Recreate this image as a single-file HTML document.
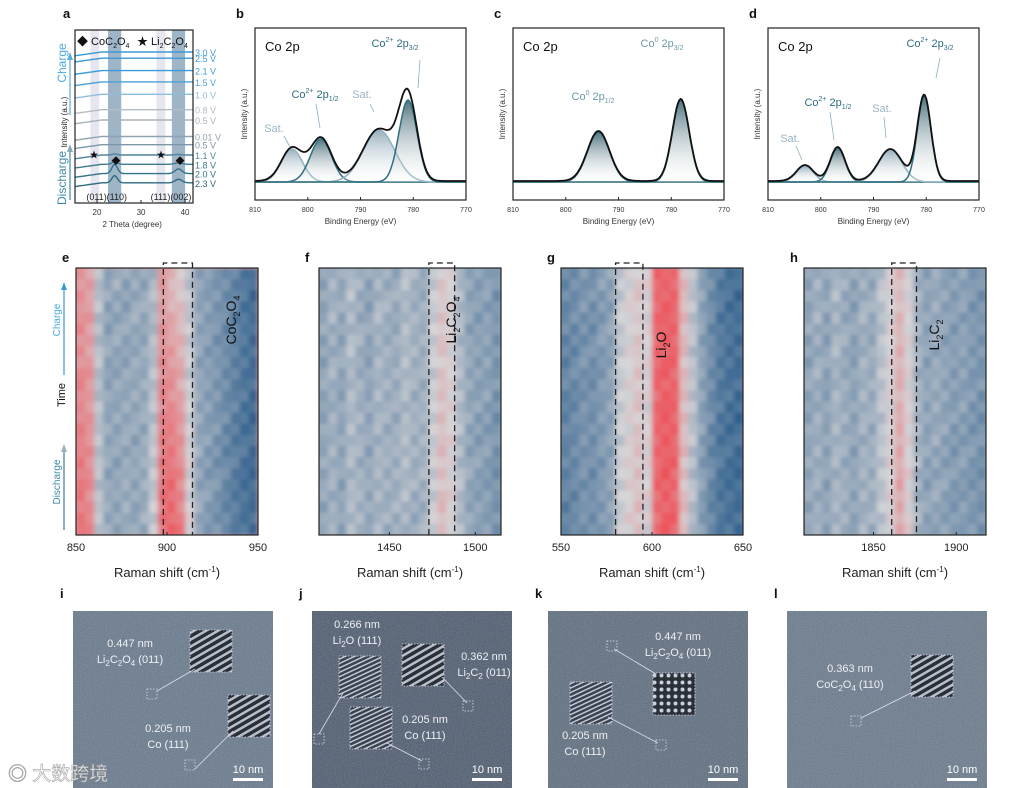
<!DOCTYPE html>
<html><head><meta charset="utf-8"><style>
html,body{margin:0;padding:0;background:#fff}
svg{display:block;font-family:"Liberation Sans","Noto Sans CJK SC",sans-serif}
</style></head><body>
<svg id="fig" width="1030" height="788" viewBox="0 0 1030 788" xmlns="http://www.w3.org/2000/svg">
<defs>
<linearGradient id="gTeal" x1="0" y1="0" x2="0" y2="1"><stop offset="0" stop-color="#24505e"/><stop offset="1" stop-color="#ffffff" stop-opacity="0.2"/></linearGradient>
<linearGradient id="gSat" x1="0" y1="0" x2="0" y2="1"><stop offset="0" stop-color="#7f9cac"/><stop offset="1" stop-color="#ffffff" stop-opacity="0.2"/></linearGradient>
<filter id="blur" x="0" y="0" width="1" height="1"><feGaussianBlur stdDeviation="2.5 1.5"/></filter>
<filter id="noise"><feTurbulence type="fractalNoise" baseFrequency="0.9" numOctaves="2" seed="3"/><feColorMatrix type="saturate" values="0"/><feComponentTransfer><feFuncA type="linear" slope="0.35"/></feComponentTransfer><feComposite in2="SourceGraphic" operator="in"/></filter>
<pattern id="stripe1" width="6" height="6" patternUnits="userSpaceOnUse" patternTransform="rotate(60)"><rect width="6" height="6" fill="#2a2f38"/><rect width="2.5" height="6" fill="#b8c0cc"/></pattern>
<pattern id="stripe2" width="4" height="4" patternUnits="userSpaceOnUse" patternTransform="rotate(65)"><rect width="4" height="4" fill="#3a4250"/><rect width="1.5" height="4" fill="#c0c8d4"/></pattern>
<pattern id="dots" width="7" height="7" patternUnits="userSpaceOnUse"><rect width="7" height="7" fill="#2a2f38"/><circle cx="3.5" cy="3.5" r="2" fill="#c8d0da"/></pattern>
</defs>
<g id="root"></g>
</svg>
<script>
// ---------- DATA ----------
var aVolts=["3.0 V","2.5 V","2.1 V","1.5 V","1.0 V","0.8 V","0.5 V","0.01 V","0.5 V","1.1 V","1.8 V","2.0 V","2.3 V"];
var aOffsets=[13.2,12.6,11.4,10.3,9.1,7.6,6.6,5.0,4.2,3.2,2.3,1.4,0.5];
var aPeak110=[0,0,0,0,0,0,0,0,0,0.1,0.25,0.9,0.7];
var aPeak002=[0,0,0,0,0,0,0,0,0,0.05,0.15,0.45,0.35];
var aColors=["#3a9ad9","#3a9ad9","#3a9ad9","#4aa0d8","#8ebcdc","#b4bcc4","#a8b2ba","#8fa4b2","#7d98a8","#4f8499","#3d7a90","#337288","#2e6a80"];
var bCenters=[803,797.5,786.5,781], bHeights=[0.33,0.43,0.52,0.82], bWidths=[2.0,2.0,3.0,1.7], bKinds=["sat","main","sat","main"];
var cCenters=[793.8,778.2], cHeights=[0.5,0.82], cWidths=[2.1,1.6], cKinds=["main","main"];
var dCenters=[803,796.8,786.8,780.4], dHeights=[0.16,0.34,0.32,0.86], dWidths=[1.6,1.4,2.2,1.3], dKinds=["sat","main","sat","main"];
var eTop=[0.72,0.68,0.4,0.3,0.33,0.3,0.34,0.32,0.38,0.7,0.6,0.55,0.42,0.3,0.28,0.25,0.22,0.18,0.14,0.1];
var eBot=[0.85,0.78,0.42,0.32,0.3,0.34,0.3,0.33,0.45,0.88,0.92,0.82,0.5,0.32,0.28,0.25,0.2,0.16,0.12,0.1];
var fTop=[0.3,0.36,0.32,0.4,0.34,0.3,0.38,0.35,0.33,0.4,0.36,0.34,0.45,0.55,0.5,0.38,0.3,0.28,0.3,0.25];
var fBot=[0.32,0.35,0.3,0.38,0.36,0.32,0.36,0.34,0.35,0.38,0.34,0.36,0.46,0.6,0.52,0.4,0.32,0.3,0.28,0.24];
var gTop=[0.2,0.22,0.25,0.24,0.28,0.3,0.45,0.5,0.55,0.5,0.9,0.92,0.9,0.6,0.42,0.3,0.22,0.15,0.12,0.1];
var gBot=[0.18,0.2,0.24,0.22,0.26,0.3,0.46,0.52,0.58,0.5,0.88,0.93,0.9,0.58,0.4,0.28,0.2,0.14,0.12,0.1];
var hTop=[0.3,0.35,0.3,0.38,0.33,0.3,0.36,0.33,0.42,0.5,0.6,0.5,0.36,0.3,0.33,0.3,0.28,0.3,0.26,0.25];
var hBot=[0.32,0.34,0.3,0.36,0.34,0.3,0.35,0.34,0.42,0.52,0.68,0.52,0.36,0.3,0.32,0.3,0.27,0.28,0.26,0.24];
var rowMod=[0.04,-0.03,0.05,-0.02,0.0,0.06,-0.04,0.03,-0.05,0.02,0.05,-0.03,0.01,-0.04,0.04,0.0,-0.02,0.05,-0.03,0.02,0.04,-0.05,0.03,0.0];
var eTicks=[850,900,950], fTicks=[1450,1500], gTicks=[550,600,650], hTicks=[1850,1900];

var NS="http://www.w3.org/2000/svg", root=document.getElementById('root');
function mk(tag,attrs,parent,txt){var e=document.createElementNS(NS,tag);for(var k in attrs)e.setAttribute(k,attrs[k]);if(txt!==undefined)e.textContent=txt;(parent||root).appendChild(e);return e;}
function label(x,y,t){var e=mk('text',{x:x,y:y,'font-size':13,'font-weight':'bold',fill:'#111'},root,t);

}
function txt(x,y,s,t,fill,anchor,g,name){var e=mk('text',{x:x,y:y,'font-size':s,fill:fill||'#222','text-anchor':anchor||'start'},g,'');e.innerHTML=t;

return e;}

// ---------- Panel a ----------
(function(){
 label(63,18,'a');
 var g=mk('g',{});  
 var L=75,R=193,T=30,B=203, x0=15, x1=41.8;
 function X(v){return L+(v-x0)/(x1-x0)*(R-L);}
 function Y(v){return 188-v*10.3;}
 [[18.5,20.5,'#e6e6ef'],[33.5,35.5,'#e6e6ef'],[22.5,25.5,'#9db5c7'],[37,40,'#9db5c7']].forEach(function(b){
  var r=mk('rect',{x:X(b[0]),y:T,width:X(b[1])-X(b[0]),height:B-T,fill:b[2]},g);
   });
 for(var i=0;i<aVolts.length;i++){
  var d='';
  for(var v=x0;v<=x1;v+=0.3){
   var y=aOffsets[i]+ (v<21? (v-21)*0.06:0) + aPeak110[i]*Math.exp(-Math.pow(v-24,2)/0.8)+aPeak002[i]*Math.exp(-Math.pow(v-38.5,2)/1.2);
   d+=(d?'L':'M')+X(v).toFixed(1)+','+Y(y).toFixed(1);
  }
  var p=mk('path',{d:d,fill:'none',stroke:aColors[i],'stroke-width':1.4},g);
   
  txt(R+2,Y(aOffsets[i])+4,9,aVolts[i],aColors[i],'start',g,'voltage-label');
 }
 mk('rect',{x:L,y:T,width:R-L,height:B-T,fill:'none',stroke:'#222','stroke-width':1.2},g);
 [20,30,40].forEach(function(t){mk('line',{x1:X(t),x2:X(t),y1:B,y2:B-3,stroke:'#222'},g);txt(X(t),B+12,8,t,'#333','middle',g,'x-tick-label');});
 txt(X(28),B+24,8,'2 Theta (degree)','#333','middle',g,'x-axis-title');
 txt(77,45,11,'◆ CoC<tspan dy="3" font-size="7">2</tspan><tspan dy="-3">O</tspan><tspan dy="3" font-size="7">4</tspan>','#111','start',g,'legend-coc2o4');
 txt(137,45,11,'★ Li<tspan dy="3" font-size="7">2</tspan><tspan dy="-3">C</tspan><tspan dy="3" font-size="7">2</tspan><tspan dy="-3">O</tspan><tspan dy="3" font-size="7">4</tspan>','#111','start',g,'legend-li2c2o4');
 txt(94,158,9,'★','#111','middle',g,'marker'); txt(161,158,9,'★','#111','middle',g,'marker');
 txt(116,164,9,'◆','#111','middle',g,'marker'); txt(180,164,9,'◆','#111','middle',g,'marker');
 txt(X(22.2),200,9,'(011)(110)','#222','middle',g,'hkl-label');txt(X(36.8),200,9,'(111)(002)','#222','middle',g,'hkl-label');
 mk('line',{x1:70,y1:115,x2:70,y2:58,stroke:'#5aaee0','stroke-width':1.2},g);mk('path',{d:'M67,60 L70,52 L73,60Z',fill:'#5aaee0'},g);
 mk('line',{x1:70,y1:200,x2:70,y2:150,stroke:'#3d8aa8','stroke-width':1.2},g);mk('path',{d:'M67,152 L70,144 L73,152Z',fill:'#8aa8b4'},g);
 var t1=txt(0,0,12,'Charge','#4aa8e0','middle',g,'charge-label');t1.setAttribute('transform','translate(66,63) rotate(-90)');
 var t2=txt(0,0,8,'Intensity (a.u.)','#222','middle',g,'y-axis-title');t2.setAttribute('transform','translate(67,122) rotate(-90)');
 var t3=txt(0,0,12,'Discharge','#3d8aa8','middle',g,'discharge-label');t3.setAttribute('transform','translate(66,178) rotate(-90)');
})();

// ---------- XPS ----------
function xps(L,lab,C,H,W,K,annos,arrows,name){
 var R=L+211,T=28,B=200,base=182;
 label(L-19,18,lab);
 var g=mk('g',{});  
 function X(v){return L+(810-v)/40*(R-L);}
 function Y(v){return base-v*100;}
 mk('line',{x1:L,x2:R,y1:base,y2:base,stroke:'#d8e4c0','stroke-width':1.5},g);
 for(var i=0;i<C.length;i++){
  var d='',col=K[i]=='sat'?'#8fb0c0':'#2e6e80';
  for(var v=810;v>=770;v-=0.25){var y=H[i]*Math.exp(-Math.pow(v-C[i],2)/(2*W[i]*W[i]));d+=(d?'L':'M')+X(v).toFixed(1)+','+Y(y).toFixed(1);}
  var f=mk('path',{d:d+'Z',fill:K[i]=='sat'?'url(#gSat)':'url(#gTeal)',opacity:0.8},g);
   
  var p=mk('path',{d:d,fill:'none',stroke:col,'stroke-width':1.5},g);
   
 }
 var d2='';
 for(var v=810;v>=770;v-=0.25){var s=0;for(var i=0;i<C.length;i++)s+=H[i]*Math.exp(-Math.pow(v-C[i],2)/(2*W[i]*W[i]));d2+=(d2?'L':'M')+X(v).toFixed(1)+','+Y(s+0.01).toFixed(1);}
 var env=mk('path',{d:d2,fill:'none',stroke:'#111','stroke-width':1.8},g);
  
 arrows.forEach(function(a){mk('line',{x1:a[0],y1:a[1],x2:a[2],y2:a[3],stroke:'#8ab0c0','stroke-width':0.8},g);});
 mk('rect',{x:L,y:T,width:R-L,height:B-T,fill:'none',stroke:'#222','stroke-width':1.2},g);
 [810,800,790,780,770].forEach(function(t){mk('line',{x1:X(t),x2:X(t),y1:B,y2:B-3,stroke:'#222'},g);txt(X(t),B+12,7,t,'#333','middle',g,'x-tick-label');});
 txt((L+R)/2,B+24,8,'Binding Energy (eV)','#333','middle',g,'x-axis-title');
 var yt=txt(0,0,8,'Intensity (a.u.)','#333','middle',g,'y-axis-title');yt.setAttribute('transform','translate('+(L-8)+',114) rotate(-90)');
 txt(L+10,51,13,'Co 2p','#111','start',g,'element-label');
 annos.forEach(function(a){txt(a[0],a[1],11,a[2],a[3],'middle',g,'peak-label');});
}
xps(255,'b',bCenters,bHeights,bWidths,bKinds,[[395,47,'Co<tspan dy="-5" font-size="7">2+</tspan><tspan dy="5"> 2p</tspan><tspan dy="3" font-size="7">3/2</tspan>','#2e6e80'],[315,98,'Co<tspan dy="-5" font-size="7">2+</tspan><tspan dy="5"> 2p</tspan><tspan dy="3" font-size="7">1/2</tspan>','#2e6e80'],[362,98,'Sat.','#9ab4c2'],[274,132,'Sat.','#9ab4c2']],[[420,60,418,88],[316,104,320,128],[370,104,374,112],[284,136,290,147]],'xps-panel-b');
xps(513,'c',cCenters,cHeights,cWidths,cKinds,[[662,47,'Co<tspan dy="-5" font-size="7">0</tspan><tspan dy="5"> 2p</tspan><tspan dy="3" font-size="7">3/2</tspan>','#6b9aaa'],[593,100,'Co<tspan dy="-5" font-size="7">0</tspan><tspan dy="5"> 2p</tspan><tspan dy="3" font-size="7">1/2</tspan>','#6b9aaa']],[],'xps-panel-c');
xps(768,'d',dCenters,dHeights,dWidths,dKinds,[[930,47,'Co<tspan dy="-5" font-size="7">2+</tspan><tspan dy="5"> 2p</tspan><tspan dy="3" font-size="7">3/2</tspan>','#2e6e80'],[828,106,'Co<tspan dy="-5" font-size="7">2+</tspan><tspan dy="5"> 2p</tspan><tspan dy="3" font-size="7">1/2</tspan>','#2e6e80'],[882,112,'Sat.','#9ab4c2'],[790,142,'Sat.','#9ab4c2']],[[940,58,936,78],[830,112,834,140],[884,117,886,138],[796,146,802,160]],'xps-panel-d');

// ---------- Heatmaps ----------
function cmap(v){v=Math.max(0,Math.min(1,v));var b=[28,82,132],m=[214,214,216],r=[238,76,84],c=[];
 for(var i=0;i<3;i++)c[i]=v<0.5? b[i]+(m[i]-b[i])*(v/0.5) : m[i]+(r[i]-m[i])*((v-0.5)/0.5);
 return 'rgb('+c.map(Math.round).join(',')+')';}
function heat(L,lab,top,bot,x0,x1,ticks,box,spec,name,time){
 var R=L+182,T=268,B=535; label(L-14,262,lab);
 var g=mk('g',{});  
 var clip=mk('clipPath',{id:'clip'+lab},g); mk('rect',{x:L,y:T,width:R-L,height:B-T},clip);
 var hg=mk('g',{'clip-path':'url(#clip'+lab+')'},g); var hb=mk('g',{filter:'url(#blur)'},hg);
 mk('rect',{x:L-10,y:T-10,width:R-L+20,height:B-T+20,fill:cmap(top[0])},hb);
 var n=top.length,rows=rowMod.length,cw=(R-L)/n,rh=(B-T)/rows;
 for(var r=0;r<rows;r++)for(var i=0;i<n;i++){var t=r/(rows-1);var v=top[i]*(1-t)+bot[i]*t+rowMod[(r+i)%rows];
  var c=mk('rect',{x:(L+i*cw).toFixed(1),y:(T+r*rh).toFixed(1),width:(cw+0.6).toFixed(1),height:(rh+0.6).toFixed(1),fill:cmap(v)},hb);
   }
 function X(v){return L+(v-x0)/(x1-x0)*(R-L);}
 mk('rect',{x:L,y:T,width:R-L,height:B-T,fill:'none',stroke:'#222','stroke-width':1.2},g);
 var bx=mk('path',{d:'M'+X(box[0])+','+B+' L'+X(box[0])+','+(T-5)+' L'+X(box[1])+','+(T-5)+' L'+X(box[1])+','+B,fill:'none',stroke:'#222','stroke-width':1.3,'stroke-dasharray':'6,4'},g);
  
 ticks.forEach(function(t){mk('line',{x1:X(t),x2:X(t),y1:B,y2:B-3,stroke:'#222'},g);txt(X(t),B+16,11,t,'#222','middle',g,'x-tick-label');});
 txt((L+R)/2,B+42,13,'Raman shift (cm<tspan dy="-5" font-size="8">-1</tspan><tspan dy="5">)</tspan>','#222','middle',g,'x-axis-title');
 var st=txt(0,0,14,spec,'#111','middle',g,'species-label');st.setAttribute('transform','translate('+(L+box[2])+','+box[3]+') rotate(-90)');
 if(time){
  mk('line',{x1:L-12,y1:375,x2:L-12,y2:288,stroke:'#3a9ad9','stroke-width':1.2},g);mk('path',{d:'M'+(L-15)+',290 L'+(L-12)+','+282+' L'+(L-9)+',290Z',fill:'#3a9ad9'},g);
  mk('line',{x1:L-12,y1:530,x2:L-12,y2:450,stroke:'#3d7a98','stroke-width':1.2},g);mk('path',{d:'M'+(L-15)+',452 L'+(L-12)+',444 L'+(L-9)+',452Z',fill:'#9ab0b8'},g);
  var a=txt(0,0,10,'Charge','#4aa8e0','middle',g,'charge-label');a.setAttribute('transform','translate('+(L-16)+',320) rotate(-90)');
  var b=txt(0,0,11,'Time','#111','middle',g,'y-axis-title');b.setAttribute('transform','translate('+(L-11)+',395) rotate(-90)');
  var c=txt(0,0,10,'Discharge','#3d8aa8','middle',g,'discharge-label');c.setAttribute('transform','translate('+(L-16)+',482) rotate(-90)');
 }
}
heat(76,'e',eTop,eBot,850,950,eTicks,[898,914,160,320],'CoC<tspan dy="4" font-size="9">2</tspan><tspan dy="-4">O</tspan><tspan dy="4" font-size="9">4</tspan>','raman-heatmap-e',true);
heat(319,'f',fTop,fBot,1409,1515,fTicks,[1473,1488,137,320],'Li<tspan dy="4" font-size="9">2</tspan><tspan dy="-4">C</tspan><tspan dy="4" font-size="9">2</tspan><tspan dy="-4">O</tspan><tspan dy="4" font-size="9">4</tspan>','raman-heatmap-f',false);
heat(561,'g',gTop,gBot,550,650,gTicks,[580,595,105,345],'Li<tspan dy="4" font-size="9">2</tspan><tspan dy="-4">O</tspan>','raman-heatmap-g',false);
heat(804,'h',hTop,hBot,1808,1918,hTicks,[1861,1876,135,335],'Li<tspan dy="4" font-size="9">2</tspan><tspan dy="-4">C</tspan><tspan dy="4" font-size="9">2</tspan>','raman-heatmap-h',false);

// ---------- TEM ----------
function tem(L,lab,bg,items,name){
 var T=611,W=200,H=177; label(L-13,598,lab);
 var g=mk('g',{});  
 mk('rect',{x:L,y:T,width:W,height:H,fill:bg},g);
 mk('rect',{x:L,y:T,width:W,height:H,fill:bg,filter:'url(#noise)'},g);
 items.forEach(function(it){
  if(it.t=='inset'){mk('rect',{x:L+it.x,y:T+it.y,width:it.s,height:it.s,fill:it.p,stroke:'#dde',"stroke-dasharray":'1.5,1.5','stroke-width':0.8},g);}
  else if(it.t=='small'){mk('rect',{x:L+it.x,y:T+it.y,width:10,height:10,fill:'none',stroke:'#dde','stroke-dasharray':'1.5,1.5','stroke-width':0.8},g);}
  else if(it.t=='line'){mk('line',{x1:L+it.x1,y1:T+it.y1,x2:L+it.x2,y2:T+it.y2,stroke:'#dde','stroke-width':0.8},g);}
  else {txt(L+it.x,T+it.y,11,it.s,'#eef0f4','middle',g,'lattice-label');}
 });
 mk('rect',{x:L+160,y:T+167,width:30,height:3,fill:'#fff'},g);
 txt(L+175,T+162,11,'10 nm','#fff','middle',g,'scale-bar-label');
}
var sub=function(s){return '<tspan dy="3" font-size="8">'+s+'</tspan><tspan dy="-3">';};
tem(73,'i','#66788c',[{t:'inset',x:117,y:19,s:42,p:'url(#stripe1)'},{t:'inset',x:155,y:84,s:42,p:'url(#stripe1)'},{t:'small',x:74,y:78},{t:'small',x:112,y:149},{t:'line',x1:84,y1:80,x2:122,y2:58},{t:'line',x1:122,y1:158,x2:160,y2:120},{t:'txt',x:57,y:36,s:'0.447 nm'},{t:'txt',x:57,y:52,s:'Li'+sub('2')+'C</tspan>'+sub('2')+'O</tspan>'+sub('4')+' (011)</tspan>'},{t:'txt',x:95,y:121,s:'0.205 nm'},{t:'txt',x:95,y:137,s:'Co (111)'}],'tem-panel-i');
tem(312,'j','#4c5a6e',[{t:'inset',x:27,y:45,s:42,p:'url(#stripe2)'},{t:'inset',x:90,y:33,s:42,p:'url(#stripe1)'},{t:'inset',x:38,y:96,s:42,p:'url(#stripe2)'},{t:'small',x:151,y:90},{t:'small',x:2,y:123},{t:'small',x:107,y:148},{t:'line',x1:7,y1:123,x2:31,y2:82},{t:'line',x1:130,y1:66,x2:155,y2:92},{t:'line',x1:75,y1:132,x2:110,y2:150},{t:'txt',x:45,y:17,s:'0.266 nm'},{t:'txt',x:45,y:33,s:'Li'+sub('2')+'O (111)</tspan>'},{t:'txt',x:172,y:49,s:'0.362 nm'},{t:'txt',x:172,y:65,s:'Li'+sub('2')+'C</tspan>'+sub('2')+' (011)</tspan>'},{t:'txt',x:113,y:112,s:'0.205 nm'},{t:'txt',x:113,y:128,s:'Co (111)'}],'tem-panel-j');
tem(548,'k','#5d6c7e',[{t:'inset',x:105,y:62,s:42,p:'url(#dots)'},{t:'inset',x:22,y:71,s:42,p:'url(#stripe2)'},{t:'small',x:59,y:30},{t:'small',x:108,y:129},{t:'line',x1:66,y1:38,x2:108,y2:63},{t:'line',x1:60,y1:106,x2:110,y2:132},{t:'txt',x:130,y:29,s:'0.447 nm'},{t:'txt',x:130,y:45,s:'Li'+sub('2')+'C</tspan>'+sub('2')+'O</tspan>'+sub('4')+' (011)</tspan>'},{t:'txt',x:37,y:128,s:'0.205 nm'},{t:'txt',x:37,y:144,s:'Co (111)'}],'tem-panel-k');
tem(787,'l','#68798c',[{t:'inset',x:124,y:44,s:42,p:'url(#stripe1)'},{t:'small',x:64,y:105},{t:'line',x1:74,y1:107,x2:128,y2:80},{t:'txt',x:63,y:61,s:'0.363 nm'},{t:'txt',x:63,y:77,s:'CoC'+sub('2')+'O</tspan>'+sub('4')+' (110)</tspan>'}],'tem-panel-l');
var wm=txt(8,780,19,'◎ 大数跨境','#ffffff','start',root,'watermark');wm.setAttribute('stroke','#999');wm.setAttribute('stroke-width','0.6');wm.setAttribute('opacity','0.9');
</script>
</body></html>
